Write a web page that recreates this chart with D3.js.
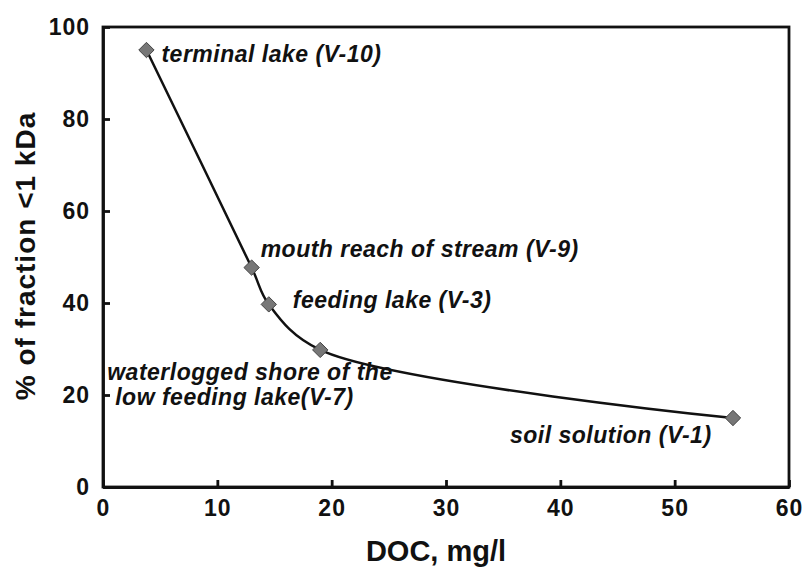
<!DOCTYPE html>
<html>
<head>
<meta charset="utf-8">
<script src="https://cdn.jsdelivr.net/npm/d3@7"></script>
<style>
  body { margin: 0; background: #fff; }
  text { font-family: "Liberation Sans", Arial, sans-serif; font-weight: bold; fill: #111; }
</style>
</head>
<body>
<div id="chart"></div>
<script>
// data
const doc = [3.8, 13, 14.5, 19, 55.1]
const fraction = [95, 47.7, 39.7, 29.8, 15]
const sites = [
  ['terminal lake (V-10)'],
  ['mouth reach of stream (V-9)'],
  ['feeding lake (V-3)'],
  ['waterlogged shore of the', 'low feeding lake(V-7)'],
  ['soil solution (V-1)']
]
// label offsets from the point, in px
const labelDx = [15, 9, 24, -213, -223]
const labelDy = [12, -11, 4, 30, 25]
const xTicks = [0, 10, 20, 30, 40, 50, 60]
const yTicks = [0, 20, 40, 60, 80, 100]

const width = 803
const height = 567
const margin = {left: 103, right: 14, top: 27, bottom: 80}

const svg = d3.select('#chart')
  .append('svg')
  .attr('width', width)
  .attr('height', height)

const x = d3.scaleLinear().domain([0, 60]).range([margin.left, width - margin.right])
const y = d3.scaleLinear().domain([0, 100]).range([height - margin.bottom, margin.top])

const points = doc.map((d, i) => ({x: d, y: fraction[i], label: sites[i], dx: labelDx[i], dy: labelDy[i]}))

// frame
svg.append('rect')
  .attr('x', x(0))
  .attr('y', y(100))
  .attr('width', x(60) - x(0))
  .attr('height', y(0) - y(100))
  .attr('fill', 'none')
  .attr('stroke', '#111')
  .attr('stroke-width', 2.8)

// axes, ticks inside
const xAxis = svg.append('g')
  .attr('transform', `translate(0, ${y(0)})`)
  .call(d3.axisBottom(x).tickValues(xTicks).tickSizeInner(-7).tickSizeOuter(0).tickPadding(13))
xAxis.select('.domain').attr('stroke-width', 2.8).attr('stroke', '#111')
xAxis.selectAll('.tick line').attr('stroke-width', 2.8).attr('stroke', '#111')
xAxis.selectAll('.tick text').style('font-size', '23px').style('letter-spacing', '1px').attr('fill', '#111')

const yAxis = svg.append('g')
  .attr('transform', `translate(${x(0)}, 0)`)
  .call(d3.axisLeft(y).tickValues(yTicks).tickSizeInner(-7).tickSizeOuter(0).tickPadding(13))
yAxis.select('.domain').attr('stroke-width', 2.8).attr('stroke', '#111')
yAxis.selectAll('.tick line').attr('stroke-width', 2.8).attr('stroke', '#111')
yAxis.selectAll('.tick text').style('font-size', '23px').style('letter-spacing', '1px').attr('fill', '#111')

// axis titles
svg.append('text')
  .attr('x', 436)
  .attr('y', 561)
  .attr('text-anchor', 'middle')
  .style('font-size', '29px')
  .text('DOC, mg/l')

svg.append('text')
  .attr('transform', `translate(35, 256) rotate(-90)`)
  .attr('text-anchor', 'middle')
  .style('font-size', '28px')
  .style('letter-spacing', '1px')
  .text('% of fraction <1 kDa')

// smoothed line
const line = d3.line()
  .x(d => x(d.x))
  .y(d => y(d.y))
  .curve(d3.curveCatmullRom.alpha(0.5))

svg.append('path')
  .datum(points)
  .attr('d', line)
  .attr('fill', 'none')
  .attr('stroke', '#111')
  .attr('stroke-width', 2.5)

// markers
svg.selectAll('.marker')
  .data(points)
  .enter()
  .append('path')
  .attr('class', 'marker')
  .attr('d', d3.symbol().type(d3.symbolDiamond2).size(150))
  .attr('transform', d => `translate(${x(d.x)}, ${y(d.y)})`)
  .attr('fill', '#777')
  .attr('stroke', '#444')
  .attr('stroke-width', 1)

// point labels
const labels = svg.selectAll('.label')
  .data(points)
  .enter()
  .append('text')
  .attr('class', 'label')
  .attr('x', d => x(d.x) + d.dx)
  .attr('y', d => y(d.y) + d.dy)
  .style('font-size', '23px')
  .style('font-style', 'italic')
  .style('letter-spacing', '0.5px')

labels.selectAll('tspan')
  .data(d => d.label.map((t, j) => ({t, j, x: x(d.x) + d.dx})))
  .enter()
  .append('tspan')
  .attr('x', t => t.x + t.j * 8)
  .attr('dy', t => t.j === 0 ? 0 : 25)
  .text(t => t.t)
</script>
</body>
</html>
